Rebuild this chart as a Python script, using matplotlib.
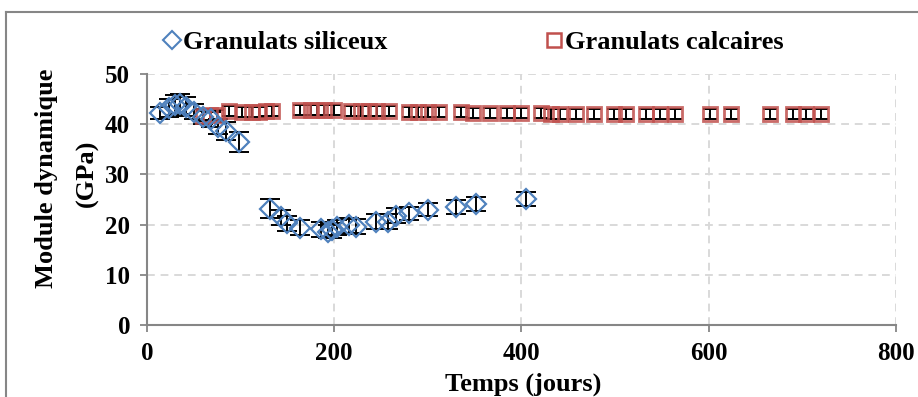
import numpy as np
import matplotlib as mpl
mpl.use('Agg')
import matplotlib.pyplot as plt
from matplotlib.lines import Line2D

plt.rcParams['font.family'] = ['Liberation Serif', 'DejaVu Serif']
plt.rcParams['font.weight'] = 'bold'

# granulats siliceux
sil_days = [14, 24, 30, 35, 42, 50, 60, 68, 76, 85, 98,
            132, 143, 150, 163, 186, 193, 198, 203, 216, 223,
            245, 257, 266, 280, 300, 330, 352, 405]
sil_E = [42.3, 43.2, 43.8, 44.0, 43.5, 42.5, 41.5, 41.0, 39.5, 38.7, 36.5,
         23.2, 21.5, 20.3, 19.4, 19.1, 18.6, 18.9, 19.5, 19.9, 19.6,
         20.6, 20.6, 21.8, 22.3, 23.0, 23.5, 24.1, 25.1]
sil_err = [1.2, 1.8, 2.0, 2.0, 1.8, 1.5, 1.5, 1.5, 1.5, 1.8, 2.0,
           1.8, 1.5, 1.5, 1.5, 1.5, 1.3, 1.5, 1.5, 1.5, 1.5,
           1.5, 1.5, 1.5, 1.3, 1.3, 1.3, 1.3, 1.3]

# granulats calcaires
cal_days = [60, 67, 75, 88, 102, 112, 120, 127, 134,
            164, 175, 182, 189, 200, 218, 229, 237, 246, 259,
            280, 290, 300, 312, 335, 348, 366, 385, 400, 421, 432, 441,
            458, 478, 499, 512, 533, 548, 564, 601, 624, 665, 690, 704, 720]
cal_E = [41.6, 41.8, 41.9, 42.6, 42.5, 42.4, 42.5, 42.6, 42.7,
         42.8, 42.8, 42.8, 42.8, 42.8, 42.7, 42.7, 42.7, 42.7, 42.6,
         42.5, 42.5, 42.5, 42.5, 42.4, 42.3, 42.2, 42.2, 42.2, 42.2, 42.1, 42.1,
         42.1, 42.1, 42.0, 42.0, 42.0, 42.0, 42.0, 42.0, 42.0, 42.0, 42.0, 42.0, 42.0]
cal_err = [1.0] * len(cal_days)

blue = '#4F81BD'
red = '#C0504D'

fig = plt.figure(figsize=(9.18, 3.97), dpi=100)
ax = fig.add_axes([0.160, 0.181, 0.816, 0.633])

ax.errorbar(cal_days, cal_E, yerr=cal_err, fmt='none', ecolor='black', elinewidth=1.4, capsize=5, capthick=1.4, zorder=3)
ax.errorbar(sil_days, sil_E, yerr=sil_err, fmt='none', ecolor='black', elinewidth=1.4, capsize=7, capthick=1.4, zorder=3)
ax.plot(cal_days, cal_E, linestyle='none', marker='s', markersize=9.5, markerfacecolor='none',
        markeredgecolor=red, markeredgewidth=2.0, alpha=0.85, zorder=4)
ax.plot(sil_days, sil_E, linestyle='none', marker='D', markersize=10, markerfacecolor='none',
        markeredgecolor=blue, markeredgewidth=1.6, zorder=4)

ax.set_xlim(0, 800)
ax.set_ylim(0, 50)
ax.set_xticks(np.arange(0, 801, 200))
ax.set_yticks(np.arange(0, 51, 10))
ax.tick_params(labelsize=18, length=5, width=1.3, color='#868686', pad=7)
for lab in ax.get_xticklabels() + ax.get_yticklabels():
    lab.set_fontweight('bold')
ax.grid(True, color='#D9D9D9', linestyle=(0, (4, 3)), linewidth=1.4)
ax.set_axisbelow(True)
for s in ['top', 'right']:
    ax.spines[s].set_visible(False)
for s in ['left', 'bottom']:
    ax.spines[s].set_color('#868686')
    ax.spines[s].set_linewidth(1.5)

fig.text(523 / 918, 1 - 384 / 397, 'Temps (jours)', ha='center', va='center', fontsize=19, fontweight='bold')
fig.text(47 / 918, 1 - 178 / 397, 'Module dynamique', ha='center', va='center', rotation=90,
         fontsize=19, fontweight='bold')
fig.text(87 / 918, 1 - 173 / 397, '(GPa)', ha='center', va='center', rotation=90,
         fontsize=19, fontweight='bold')

handles = [Line2D([], [], linestyle='none', marker='D', markersize=9, markerfacecolor='none',
                  markeredgecolor=blue, markeredgewidth=1.5),
           Line2D([], [], linestyle='none', marker='s', markersize=10, markerfacecolor='none',
                  markeredgecolor=red, markeredgewidth=1.8)]
fig.legend(handles, ['Granulats siliceux', 'Granulats calcaires'], ncol=2, frameon=False,
           loc='center', bbox_to_anchor=(0.516, 0.893), prop={'size': 19, 'weight': 'bold'},
           handlelength=0.6, handletextpad=0.12, columnspacing=6.0)

# outer frame
fig.add_artist(Line2D([6 / 918, 1.0], [1 - 12 / 397, 1 - 12 / 397], transform=fig.transFigure, color='#868686', linewidth=1.5))
fig.add_artist(Line2D([6 / 918, 6 / 918], [0, 1 - 12 / 397], transform=fig.transFigure, color='#868686', linewidth=1.5))

fig.savefig('out.png', dpi=100)
